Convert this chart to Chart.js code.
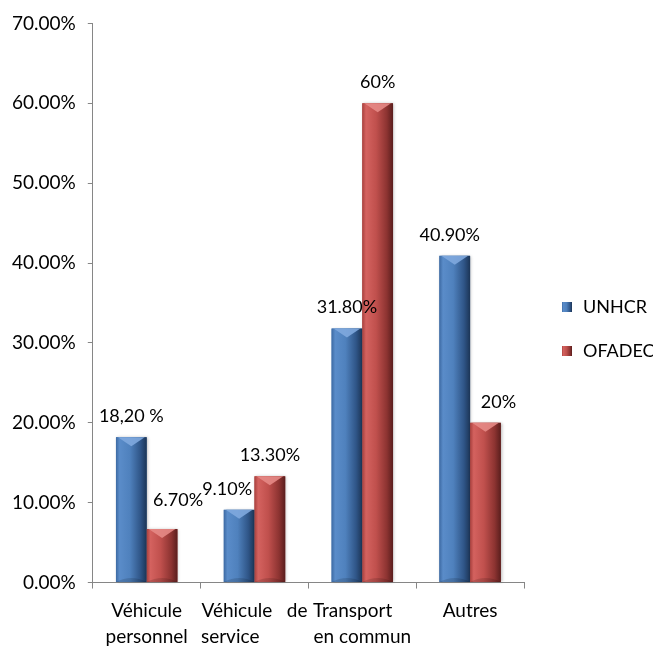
<!DOCTYPE html>
<html>
<head>
<meta charset="utf-8">
<script src="https://cdn.jsdelivr.net/npm/chart.js@4.4.1/dist/chart.umd.min.js"></script>
<style>
    html, body { margin: 0; padding: 0; background: #fff; overflow: hidden; }
    #wrap { width: 653px; height: 647px; }
</style>
</head>
<body>
<div id="wrap"><canvas id="transportChart" width="653" height="647"></canvas></div>
<script>
const categories = [['Véhicule', 'personnel'], ['Véhicule   de', 'service          '], ['Transport    ', 'en commun'], ['Autres']];
const seriesNames = ['UNHCR', 'OFADEC'];
const unhcrValues = [18.2, 9.1, 31.8, 40.9];
const ofadecValues = [6.7, 13.3, 60, 20];
const unhcrLabels = ['18,20 %', '9.10%', '31.80%', '40.90%'];
const ofadecLabels = ['6.70%', '13.30%', '60%', '20%'];
const yMax = 70;
const yStep = 10;

const FONT = 'Lato, "Open Sans", sans-serif';

// couleurs "cylindre" (clair a gauche, sombre a droite)
const shades = [
    [[0, '#3d6aa3'], [0.12, '#5a8cc9'], [0.45, '#4f81bd'], [0.8, '#2f5587'], [1, '#1c3556']],
    [[0, '#a8403d'], [0.12, '#d4625f'], [0.45, '#c0504d'], [0.8, '#8c3331'], [1, '#5a1e1d']]
];
const tops = ['#7fa9de', '#e58986'];

// decalage des etiquettes [dx, dy] par serie
const labelShift = [
    [[0, 0], [-12, 0], [0, 0], [-5, 0]],
    [[16, -8], [0, 0], [0, 0], [13, 0]]
];

const cylinderBars = {
    id: 'cylinderBars',
    afterDatasetsDraw(chart) {
        const ctx = chart.ctx;
        chart.data.datasets.forEach((ds, di) => {
            chart.getDatasetMeta(di).data.forEach(bar => {
                const left = bar.x - bar.width / 2;
                const w = bar.width;
                const top = bar.y;
                const h = bar.base - bar.y;
                ctx.save();
                ctx.shadowColor = 'rgba(0,0,0,0.3)';
                ctx.shadowBlur = 3;
                ctx.shadowOffsetX = 1;
                const g = ctx.createLinearGradient(left, 0, left + w, 0);
                shades[di].forEach(([s, c]) => g.addColorStop(s, c));
                ctx.fillStyle = g;
                ctx.fillRect(left, top, w, h);
                ctx.restore();

                ctx.save();
                ctx.fillStyle = tops[di];
                ctx.globalAlpha = 0.9;
                ctx.beginPath();
                ctx.moveTo(left + 2, top);
                ctx.lineTo(left + w - 2, top);
                ctx.lineTo(bar.x, top + 9);
                ctx.closePath();
                ctx.fill();
                ctx.fillStyle = 'rgba(0,0,0,0.15)';
                ctx.beginPath();
                ctx.moveTo(left, top + h);
                ctx.quadraticCurveTo(bar.x, top + h - 8, left + w, top + h);
                ctx.closePath();
                ctx.fill();
                ctx.restore();
            });
        });
    }
};

const valueLabels = {
    id: 'valueLabels',
    afterDraw(chart) {
        const ctx = chart.ctx;
        const texts = [unhcrLabels, ofadecLabels];
        ctx.save();
        ctx.font = '18px ' + FONT;
        ctx.fillStyle = '#000';
        ctx.textAlign = 'center';
        ctx.textBaseline = 'middle';
        chart.data.datasets.forEach((ds, di) => {
            chart.getDatasetMeta(di).data.forEach((bar, i) => {
                const [dx, dy] = labelShift[di][i];
                ctx.fillText(texts[di][i], bar.x + dx, bar.y - 21 + dy);
            });
        });
        ctx.restore();
    }
};

const sideLegend = {
    id: 'sideLegend',
    afterDraw(chart) {
        const ctx = chart.ctx;
        const x = 562;
        const ys = [307, 351];
        ctx.save();
        ctx.font = '18px ' + FONT;
        ctx.textBaseline = 'middle';
        chart.data.datasets.forEach((ds, di) => {
            const y = ys[di];
            const g = ctx.createLinearGradient(x, 0, x + 10, 0);
            shades[di].forEach(([s, c]) => g.addColorStop(s, c));
            ctx.fillStyle = g;
            ctx.fillRect(x, y - 5, 10, 10);
            ctx.fillStyle = '#000';
            ctx.fillText(ds.label, x + 21, y);
        });
        ctx.restore();
    }
};

new Chart(document.getElementById('transportChart'), {
    type: 'bar',
    data: {
        labels: categories,
        datasets: [
            { label: seriesNames[0], data: unhcrValues, backgroundColor: '#4f81bd' },
            { label: seriesNames[1], data: ofadecValues, backgroundColor: '#c0504d' }
        ]
    },
    options: {
        responsive: false,
        animation: false,
        events: [],
        layout: { padding: { left: 0, right: 129, top: 11, bottom: -12 } },
        datasets: { bar: { categoryPercentage: 0.57, barPercentage: 1 } },
        plugins: { legend: { display: false }, tooltip: { enabled: false } },
        scales: {
            x: {
                grid: { drawOnChartArea: false, drawTicks: true, tickLength: 6, color: '#868686', offset: true },
                border: { color: '#868686' },
                ticks: {
                    color: '#000',
                    font: { family: FONT, size: 19, lineHeight: 1.38 },
                    maxRotation: 0,
                    autoSkip: false,
                    padding: 9
                }
            },
            y: {
                min: 0,
                max: yMax,
                grid: { drawOnChartArea: false, tickLength: 5, color: '#868686' },
                border: { color: '#868686' },
                ticks: {
                    stepSize: yStep,
                    color: '#000',
                    padding: 12,
                    font: { family: FONT, size: 19 },
                    callback: v => v.toFixed(2) + '%'
                }
            }
        }
    },
    plugins: [cylinderBars, valueLabels, sideLegend]
});
</script>
</body>
</html>
